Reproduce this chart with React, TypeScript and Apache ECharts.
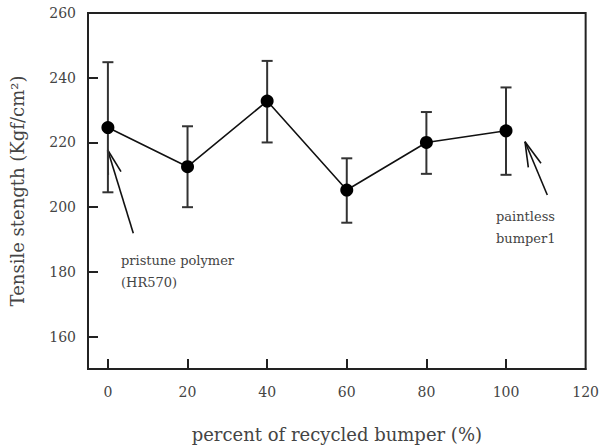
import React, { useEffect, useRef } from "react";
import * as echarts from "echarts";

const xValues = [0, 20, 40, 60, 80, 100];
const meanValues = [224.6, 212.5, 232.8, 205.3, 220.0, 223.6];
const upperValues = [244.8, 225.0, 245.2, 215.1, 229.4, 237.0];
const lowerValues = [204.6, 200.0, 220.0, 195.2, 210.3, 210.0];
const xTickLabels = [0, 20, 40, 60, 80, 100, 120];
const yTickLabels = [160, 180, 200, 220, 240, 260];
const xTickMarks = [0, 20, 40, 60, 80, 100];
const yTickMarks = [160, 180, 200, 220, 240];
const xTitle = "percent of recycled bumper (%)";
const yTitle = "Tensile stength (Kgf/cm²)";
const noteLeft = ["pristune polymer", "(HR570)"];
const noteRight = ["paintless", "bumper1"];

const FONT = "DejaVu Serif";
const TXT = "#444";

export default function App() {
  const ref = useRef<HTMLDivElement>(null);
  useEffect(() => {
    if (!ref.current) return;
    const chart = echarts.init(ref.current, null, { renderer: "svg" });
    const errData = xValues.map((x, i) => [x, lowerValues[i], upperValues[i]]);
    const lineData = xValues.map((x, i) => [x, meanValues[i]]);
    const arrowStyle = { stroke: "#111", lineWidth: 1.6 };
    chart.setOption({
      animation: false,
      backgroundColor: "#fff",
      grid: { left: 82, right: 10, top: 13, bottom: 69, show: true, borderColor: "#222", borderWidth: 2 },
      xAxis: {
        type: "value",
        min: -5,
        max: 120,
        name: xTitle,
        nameLocation: "middle",
        nameGap: 56,
        nameTextStyle: { fontFamily: FONT, fontSize: 18, color: TXT },
        axisLine: { show: true, onZero: false, lineStyle: { color: "#222", width: 2 } },
        axisTick: { show: true, inside: true, length: 10, lineStyle: { color: "#222", width: 2 }, customValues: xTickMarks },
        axisLabel: { customValues: xTickLabels, fontFamily: FONT, fontSize: 14, color: TXT, margin: 16, showMaxLabel: true },
        splitLine: { show: false },
      },
      yAxis: {
        type: "value",
        min: 150,
        max: 260,
        name: yTitle,
        nameLocation: "middle",
        nameGap: 62,
        nameTextStyle: { fontFamily: FONT, fontSize: 18, color: TXT },
        axisLine: { show: true, onZero: false, lineStyle: { color: "#222", width: 2 } },
        axisTick: { show: true, inside: true, length: 10, lineStyle: { color: "#222", width: 2 }, customValues: yTickMarks },
        axisLabel: { customValues: yTickLabels, fontFamily: FONT, fontSize: 14, color: TXT, margin: 12, showMaxLabel: true },
        splitLine: { show: false },
      },
      series: [
        {
          type: "custom",
          data: errData,
          z: 2,
          renderItem: (params: any, api: any) => {
            const x = api.value(0);
            const lo = api.coord([x, api.value(1)]);
            const hi = api.coord([x, api.value(2)]);
            const w = 5.5;
            const st = { stroke: "#333", lineWidth: 2 };
            return {
              type: "group",
              children: [
                { type: "line", shape: { x1: hi[0], y1: hi[1], x2: lo[0], y2: lo[1] }, style: st },
                { type: "line", shape: { x1: hi[0] - w, y1: hi[1], x2: hi[0] + w, y2: hi[1] }, style: st },
                { type: "line", shape: { x1: lo[0] - w, y1: lo[1], x2: lo[0] + w, y2: lo[1] }, style: st },
              ],
            };
          },
        },
        {
          type: "line",
          data: lineData,
          z: 3,
          symbol: "circle",
          symbolSize: 13,
          itemStyle: { color: "#000" },
          lineStyle: { color: "#111", width: 1.6 },
        },
      ],
      graphic: [
        { type: "line", shape: { x1: 107.7, y1: 150, x2: 133.3, y2: 233.3 }, style: arrowStyle },
        { type: "line", shape: { x1: 107.7, y1: 150, x2: 108.3, y2: 175 }, style: arrowStyle },
        { type: "line", shape: { x1: 107.7, y1: 150, x2: 121, y2: 171.7 }, style: arrowStyle },
        { type: "line", shape: { x1: 525, y1: 141.7, x2: 547.3, y2: 195 }, style: arrowStyle },
        { type: "line", shape: { x1: 525, y1: 141.7, x2: 528.3, y2: 167.3 }, style: arrowStyle },
        { type: "line", shape: { x1: 525, y1: 141.7, x2: 541, y2: 163.3 }, style: arrowStyle },
        {
          type: "text",
          x: 121,
          y: 249,
          style: { text: noteLeft.join("\n"), fontFamily: FONT, fontSize: 13, fill: TXT, lineHeight: 22 },
        },
        {
          type: "text",
          x: 496,
          y: 205,
          style: { text: noteRight.join("\n"), fontFamily: FONT, fontSize: 13, fill: TXT, lineHeight: 22 },
        },
      ],
    });
    return () => chart.dispose();
  }, []);
  return <div ref={ref} style={{ position: "fixed", left: 0, top: 0, width: 602, height: 448 }} />;
}
